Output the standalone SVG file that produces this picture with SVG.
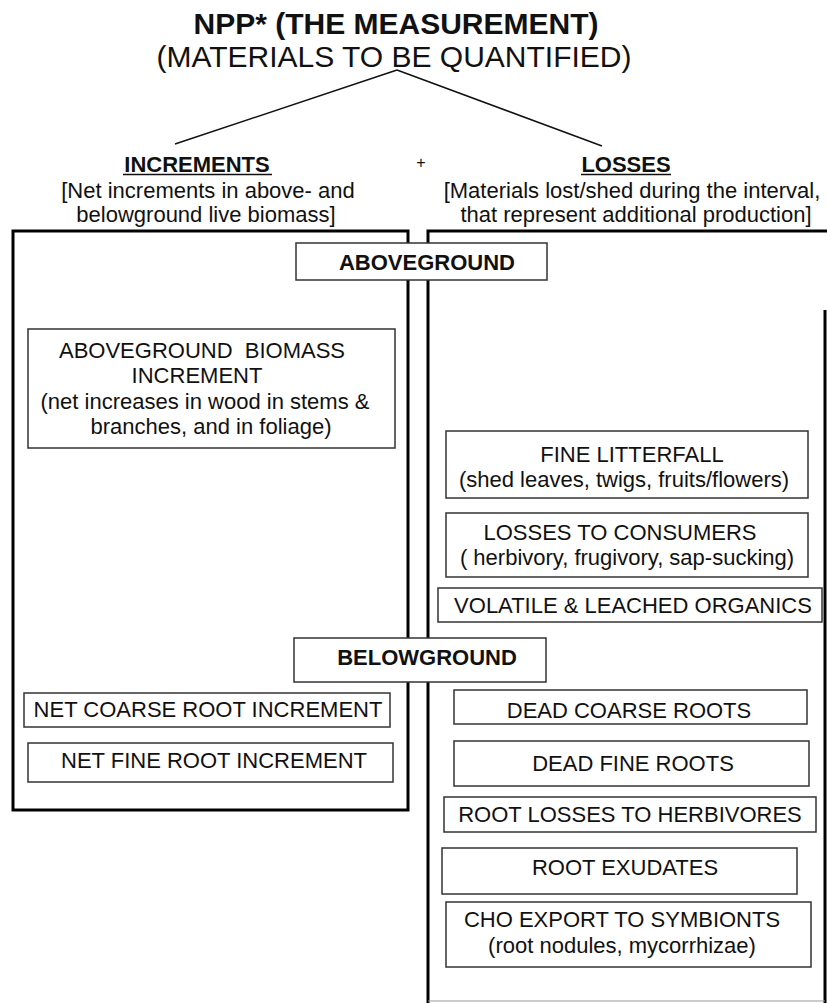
<svg xmlns="http://www.w3.org/2000/svg" width="827" height="1003" viewBox="0 0 827 1003">
<style>
text{font-family:"Liberation Sans",Arial,sans-serif;fill:#111;text-anchor:middle}
.t{font-size:30px}
.b{font-weight:bold}
.m{font-size:22px}
.box{fill:#fff;stroke:#333;stroke-width:1.5}
.big{fill:none;stroke:#000;stroke-width:3}
.ln{stroke:#111;stroke-width:1.5;fill:none}
</style>
<rect width="827" height="1003" fill="#fff"/>
<g id="title">
<text class="t b" x="396" y="34">NPP* (THE MEASUREMENT)</text>
<text class="t" x="394" y="67">(MATERIALS TO BE QUANTIFIED)</text>
</g>
<g id="connectors">
<path class="ln" d="M397,70 L175,144 M397,70 L602,146"/>
</g>
<g id="increments">
<text class="m b" x="197" y="172">INCREMENTS</text>
<line class="ln" x1="123" y1="174.5" x2="272" y2="174.5"/>
<text class="m" x="208" y="198">[Net increments in above- and</text>
<text class="m" x="206" y="222">belowground live biomass]</text>
</g>
<g id="plus"><text x="421" y="168" style="font-size:16px">+</text></g>
<g id="losses">
<text class="m b" x="626" y="172">LOSSES</text>
<line class="ln" x1="581" y1="174.5" x2="671" y2="174.5"/>
<text class="m" x="632" y="198">[Materials lost/shed during the interval,</text>
<text class="m" x="636" y="222">that represent additional production]</text>
</g>
<g id="left-panel"><rect class="big" x="13" y="231" width="395" height="579"/></g>
<g id="right-panel"><path class="big" d="M827,231 L428,231 L428,1003 M825,310 L825,1003"/><line x1="428" y1="1001" x2="825" y2="1001" stroke="#999" stroke-width="1"/></g>
<g id="aboveground">
<rect class="box" x="296" y="243" width="251" height="37"/>
<text class="m b" x="427" y="270">ABOVEGROUND</text>
</g>
<g id="ag-biomass">
<rect class="box" x="28" y="329" width="367" height="119"/>
<text class="m" x="202" y="358" xml:space="preserve">ABOVEGROUND  BIOMASS</text>
<text class="m" x="197" y="383">INCREMENT</text>
<text class="m" x="205" y="409">(net increases in wood in stems &amp;</text>
<text class="m" x="211" y="434">branches, and in foliage)</text>
</g>
<g id="fine-litterfall">
<rect class="box" x="446" y="431" width="362" height="67"/>
<text class="m" x="632" y="462">FINE LITTERFALL</text>
<text class="m" x="624" y="487">(shed leaves, twigs, fruits/flowers)</text>
</g>
<g id="consumers">
<rect class="box" x="446" y="513" width="362" height="64"/>
<text class="m" x="620" y="540">LOSSES TO CONSUMERS</text>
<text class="m" x="627" y="565">( herbivory, frugivory, sap-sucking)</text>
</g>
<g id="volatile">
<rect class="box" x="438" y="588" width="384" height="34"/>
<text class="m" x="633" y="613">VOLATILE &amp; LEACHED ORGANICS</text>
</g>
<g id="belowground">
<rect class="box" x="294" y="638" width="252" height="44"/>
<text class="m b" x="427" y="665">BELOWGROUND</text>
</g>
<g id="net-coarse">
<rect class="box" x="24" y="693" width="366" height="34"/>
<text class="m" x="208" y="717">NET COARSE ROOT INCREMENT</text>
</g>
<g id="net-fine">
<rect class="box" x="28" y="743" width="365" height="39"/>
<text class="m" x="214" y="768">NET FINE ROOT INCREMENT</text>
</g>
<g id="dead-coarse">
<rect class="box" x="454" y="690" width="353" height="34"/>
<text class="m" x="629" y="718">DEAD COARSE ROOTS</text>
</g>
<g id="dead-fine">
<rect class="box" x="454" y="741" width="355" height="45"/>
<text class="m" x="633" y="771">DEAD FINE ROOTS</text>
</g>
<g id="root-herbivores">
<rect class="box" x="444" y="797" width="372" height="35"/>
<text class="m" x="630" y="822">ROOT LOSSES TO HERBIVORES</text>
</g>
<g id="root-exudates">
<rect class="box" x="442" y="848" width="355" height="46"/>
<text class="m" x="625" y="875">ROOT EXUDATES</text>
</g>
<g id="cho-export">
<rect class="box" x="446" y="902" width="365" height="65"/>
<text class="m" x="622" y="927">CHO EXPORT TO SYMBIONTS</text>
<text class="m" x="622" y="953">(root nodules, mycorrhizae)</text>
</g>
</svg>
